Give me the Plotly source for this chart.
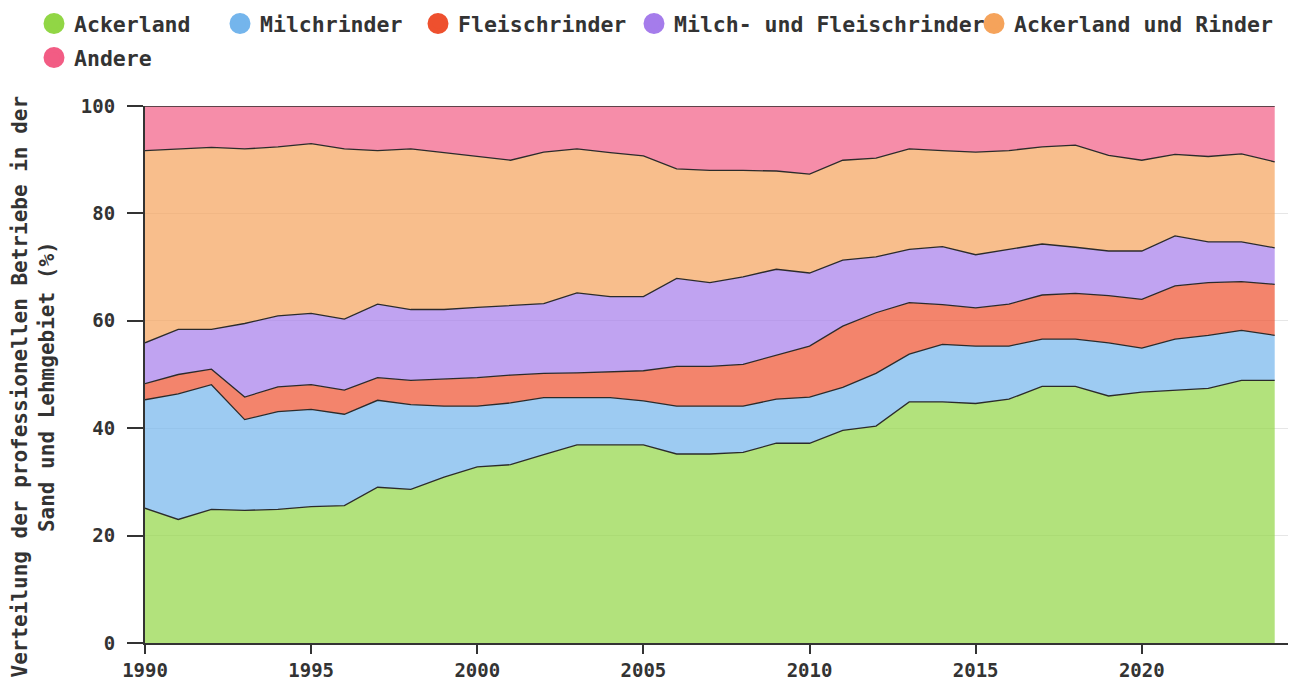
import plotly.graph_objects as go

# Share of professional farms by type, Sand- und Lehmgebiet (percent, stacked to 100)
years = list(range(1990, 2025))

ackerland = [25.1, 23.0, 24.9, 24.7, 24.9, 25.4, 25.6, 29.0, 28.6, 30.9,
             32.8, 33.2, 35.1, 36.9, 36.9, 36.9, 35.2, 35.2, 35.5, 37.2,
             37.2, 39.6, 40.4, 44.9, 44.9, 44.6, 45.4, 47.8, 47.8, 46.0,
             46.7, 47.0, 47.4, 48.9, 48.9]
milchrinder = [20.2, 23.4, 23.2, 16.9, 18.2, 18.1, 17.0, 16.2, 15.8, 13.2,
               11.3, 11.5, 10.6, 8.8, 8.8, 8.2, 8.9, 8.9, 8.6, 8.2,
               8.6, 8.0, 9.8, 8.9, 10.7, 10.7, 9.9, 8.8, 8.8, 9.9,
               8.2, 9.6, 9.9, 9.3, 8.4]
fleischrinder = [3.0, 3.6, 2.9, 4.2, 4.6, 4.6, 4.5, 4.2, 4.5, 5.0,
                 5.3, 5.2, 4.5, 4.6, 4.8, 5.6, 7.4, 7.4, 7.8, 8.2,
                 9.5, 11.4, 11.3, 9.6, 7.4, 7.1, 7.8, 8.2, 8.5, 8.8,
                 9.1, 9.9, 9.8, 9.1, 9.5]
milch_fleisch = [7.6, 8.4, 7.4, 13.7, 13.2, 13.3, 13.2, 13.7, 13.2, 13.0,
                 13.1, 13.0, 13.0, 14.9, 14.0, 13.8, 16.4, 15.6, 16.3, 16.0,
                 13.6, 12.3, 10.4, 9.9, 10.8, 9.9, 10.2, 9.5, 8.6, 8.3,
                 9.0, 9.3, 7.6, 7.4, 6.8]
ackerland_rinder = [35.8, 33.6, 33.9, 32.5, 31.5, 31.6, 31.7, 28.6, 29.9, 29.2,
                    28.1, 27.0, 28.2, 26.8, 26.8, 26.2, 20.4, 20.9, 19.8, 18.3,
                    18.4, 18.6, 18.4, 18.7, 17.9, 19.1, 18.4, 18.1, 19.0, 17.8,
                    16.9, 15.2, 15.9, 16.4, 16.0]
andere = [8.3, 8.0, 7.7, 8.0, 7.6, 7.0, 8.0, 8.3, 8.0, 8.7,
          9.4, 10.1, 8.6, 8.0, 8.7, 9.3, 11.7, 12.0, 12.0, 12.1,
          12.7, 10.1, 9.7, 8.0, 8.3, 8.6, 8.3, 7.6, 7.3, 9.2,
          10.1, 9.0, 9.4, 8.9, 10.4]

series = [
    ("Ackerland", ackerland, (145, 214, 69)),
    ("Milchrinder", milchrinder, (116, 181, 236)),
    ("Fleischrinder", fleischrinder, (238, 80, 46)),
    ("Milch- und Fleischrinder", milch_fleisch, (165, 124, 235)),
    ("Ackerland und Rinder", ackerland_rinder, (245, 163, 91)),
    ("Andere", andere, (242, 92, 132)),
]

FONT = "DejaVu Sans Mono"
TEXT = "#333333"

W, H = 1291, 681
ML, MR, MT, MB = 145, 3, 106, 38
PW, PH = W - ML - MR, H - MT - MB

fig = go.Figure()

for name, vals, (r, g, b) in series:
    fig.add_trace(go.Scatter(
        x=years, y=vals, name=name, stackgroup="one", mode="lines",
        line=dict(color="#2b2b2b", width=1.3),
        fillcolor=f"rgba({r},{g},{b},0.7)",
        showlegend=False,
    ))

# One legend box per entry so the entries sit at their own positions
# (left edge in px, top edge in px)
legend_boxes = [(34, 3), (220, 3), (418, 3), (634, 3), (974, 3), (34, 37)]

legend_style = dict(
    orientation="h", xanchor="left", yanchor="top",
    font=dict(family=FONT, size=21.5, color=TEXT, weight="bold"),
    itemsizing="trace", bgcolor="rgba(0,0,0,0)",
)

legend_layout = {}
for i, (name, vals, (r, g, b)) in enumerate(series):
    key = "legend" if i == 0 else f"legend{i + 1}"
    fig.add_trace(go.Scatter(
        x=[None], y=[None], name=name, mode="markers",
        marker=dict(symbol="circle", size=16, color=f"rgb({r},{g},{b})",
                    line=dict(color=f"rgb({r},{g},{b})", width=5)),
        showlegend=True, legend=key,
    ))
    lx, ly = legend_boxes[i]
    legend_layout[key] = dict(x=(lx - ML) / PW, y=(H - MB - ly) / PH, **legend_style)

fig.update_layout(
    width=W, height=H,
    margin=dict(l=ML, r=MR, t=MT, b=MB, autoexpand=False),
    paper_bgcolor="white", plot_bgcolor="white",
    font=dict(family=FONT, color=TEXT, size=19, weight="bold"),
    showlegend=True,
    xaxis=dict(
        range=[1990, 2024.4], tickmode="array",
        tickvals=[1990, 1995, 2000, 2005, 2010, 2015, 2020],
        showgrid=False, zeroline=False,
        showline=True, linecolor="#333333", linewidth=2,
        ticks="outside", ticklen=9, tickwidth=2, tickcolor="#333333",
        tickfont=dict(family=FONT, size=19, color=TEXT, weight="bold"),
    ),
    yaxis=dict(
        range=[0, 100], tickmode="array", tickvals=[0, 20, 40, 60, 80, 100],
        showgrid=True, gridcolor="#e6e6e6", gridwidth=1, zeroline=False,
        showline=True, linecolor="#333333", linewidth=2,
        ticks="outside", ticklen=16, tickwidth=2, tickcolor="#333333",
        ticklabelstandoff=8,
        tickfont=dict(family=FONT, size=19, color=TEXT, weight="bold"),
    ),
    annotations=[dict(
        text="Verteilung der professionellen Betriebe in der<br>Sand und Lehmgebiet (%)",
        xref="paper", yref="paper", x=(32.5 - ML) / PW, y=(H - MB - 387) / PH,
        xanchor="center", yanchor="middle", textangle=-90, showarrow=False,
        font=dict(family=FONT, size=21, color=TEXT, weight="bold"),
    )],
    **legend_layout,
)

fig.write_html("out.html")
